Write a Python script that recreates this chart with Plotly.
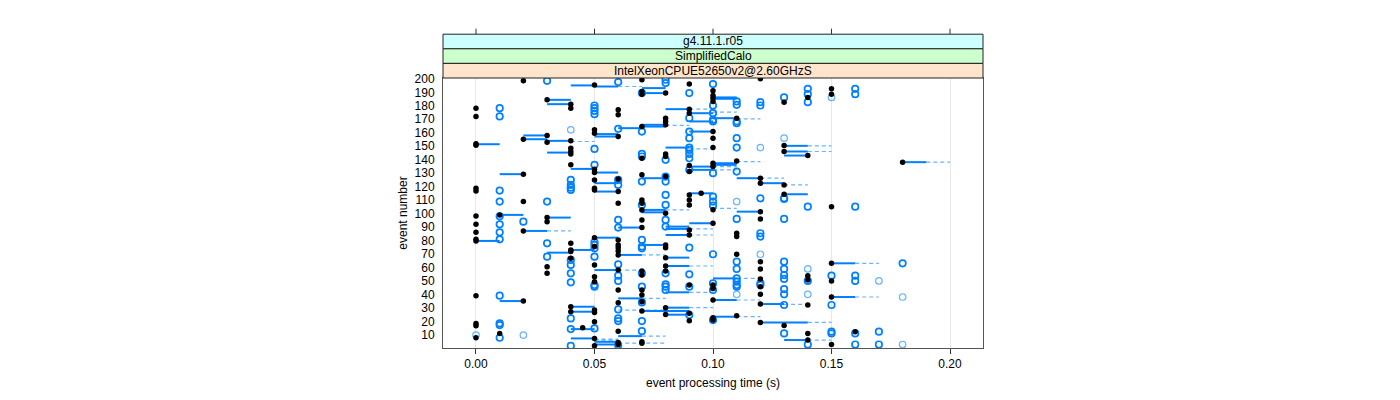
import plotly.graph_objects as go

# ---------------- data ----------------
# black filled dots: (event processing time [s], event number)
BLACK = [
    (0.02, 198.5), (0.05, 195.5), (0.03, 184.4), (0.04, 181.2), (0.04, 178.2), (0.00, 178.2), (0.00, 172.1),
    (0.05, 162.2), (0.05, 159.7), (0.03, 158.0), (0.02, 155.2), (0.03, 153.0), (0.04, 154.0), (0.00, 151.8),
    (0.00, 150.8), (0.04, 148.5), (0.04, 146.1), (0.04, 144.3), (0.04, 136.2), (0.05, 133.0), (0.05, 130.5),
    (0.02, 129.3), (0.05, 125.0), (0.05, 118.9), (0.05, 117.6), (0.00, 118.9), (0.00, 116.9), (0.02, 109.0),
    (0.07, 199.3), (0.09, 196.1), (0.12, 200.0), (0.07, 190.6), (0.07, 188.6), (0.08, 189.4), (0.10, 191.1),
    (0.10, 187.7), (0.10, 185.5), (0.10, 183.2), (0.13, 182.7), (0.06, 177.0), (0.06, 173.3), (0.09, 177.5),
    (0.09, 174.5), (0.08, 170.8), (0.08, 168.4), (0.08, 165.9), (0.07, 164.6), (0.06, 157.2), (0.11, 170.8),
    (0.10, 160.9), (0.10, 156.0), (0.10, 149.0), (0.13, 150.5), (0.13, 146.1), (0.07, 141.1), (0.08, 144.3),
    (0.08, 142.4), (0.11, 139.1), (0.10, 137.4), (0.10, 134.9), (0.09, 135.7), (0.09, 131.2), (0.07, 128.8),
    (0.08, 127.5), (0.06, 125.8), (0.06, 116.4), (0.12, 126.3), (0.12, 122.6), (0.13, 121.3), (0.095, 115.1),
    (0.09, 113.9), (0.09, 110.2), (0.09, 106.5), (0.07, 110.2), (0.07, 107.7), (0.07, 102.8), (0.06, 107.7),
    (0.12, 101.5), (0.10, 103.0), (0.13, 114.4),
    (0.14, 186.2), (0.15, 192.6), (0.15, 188.6), (0.14, 143.1), (0.18, 138.2), (0.15, 105.2),
    (0.00, 98.3), (0.00, 92.1), (0.00, 86.2), (0.00, 81.0), (0.00, 79.8), (0.01, 99.1), (0.02, 87.2),
    (0.03, 97.1), (0.03, 94.1), (0.04, 78.0), (0.04, 73.0), (0.04, 71.9), (0.04, 66.9), (0.03, 60.7),
    (0.03, 55.8), (0.05, 82.2), (0.05, 75.6), (0.05, 62.0), (0.05, 53.3), (0.05, 49.6), (0.00, 39.2),
    (0.02, 35.2), (0.00, 18.6), (0.00, 16.9), (0.00, 8.0), (0.01, 11.2), (0.04, 31.0), (0.04, 27.3),
    (0.05, 28.5), (0.05, 26.8), (0.045, 15.4), (0.05, 19.9), (0.05, 7.5), (0.05, 2.0), (0.06, 3.0), (0.07, 4.0),
    (0.08, 100.3), (0.12, 96.1), (0.07, 95.4), (0.07, 89.7), (0.09, 87.9), (0.09, 84.2), (0.10, 92.9),
    (0.11, 85.5), (0.11, 83.0), (0.06, 80.5), (0.06, 76.8), (0.06, 74.8), (0.06, 72.3), (0.06, 69.4),
    (0.08, 76.8), (0.08, 74.8), (0.08, 67.4), (0.11, 69.9), (0.06, 58.2), (0.06, 43.4), (0.06, 34.0),
    (0.07, 57.5), (0.07, 54.5), (0.08, 61.2), (0.08, 57.5), (0.09, 47.1), (0.07, 43.4), (0.07, 39.7),
    (0.07, 34.7), (0.07, 27.8), (0.10, 47.1), (0.10, 44.6), (0.12, 51.6), (0.12, 45.9), (0.12, 40.2),
    (0.12, 64.4), (0.12, 59.0), (0.10, 36.0), (0.12, 33.0), (0.08, 30.3), (0.08, 25.3), (0.09, 26.1),
    (0.09, 20.6), (0.06, 12.9), (0.06, 4.5), (0.10, 22.8), (0.10, 21.1), (0.11, 24.3), (0.12, 19.4),
    (0.07, 5.0), (0.13, 17.0),
    (0.15, 63.2), (0.14, 54.0), (0.14, 50.8), (0.15, 50.1), (0.15, 38.2), (0.14, 32.3), (0.14, 11.2),
    (0.16, 12.5), (0.14, 6.3), (0.15, 3.0),
]

# blue open circles (strong)
CIRCLES = [
    (0.03, 198.5), (0.05, 180.2), (0.05, 178.2), (0.05, 176.2), (0.05, 173.8), (0.01, 178.2), (0.01, 172.1),
    (0.05, 148.0), (0.05, 136.2), (0.04, 125.0), (0.04, 121.3), (0.04, 119.3), (0.04, 117.6), (0.01, 117.1),
    (0.01, 109.0), (0.03, 109.0),
    (0.06, 197.6), (0.08, 199.3), (0.08, 196.8), (0.10, 196.1), (0.09, 189.4), (0.07, 189.4), (0.11, 183.2),
    (0.11, 180.7), (0.12, 182.7), (0.12, 180.2), (0.13, 186.2), (0.10, 180.2), (0.10, 174.5), (0.09, 170.8),
    (0.10, 169.6), (0.10, 168.4), (0.11, 168.4), (0.11, 167.1), (0.06, 162.9), (0.07, 160.9), (0.09, 160.9),
    (0.09, 156.0), (0.11, 156.0), (0.09, 149.0), (0.11, 149.0), (0.07, 144.3), (0.07, 142.4), (0.08, 139.9),
    (0.09, 147.3), (0.09, 144.3), (0.09, 141.1), (0.09, 132.5), (0.10, 130.0), (0.11, 131.2), (0.07, 123.8),
    (0.08, 127.5), (0.08, 123.8), (0.06, 125.0), (0.06, 121.3), (0.08, 113.9), (0.08, 106.5), (0.07, 106.5),
    (0.10, 112.7), (0.10, 109.0), (0.10, 106.0), (0.12, 111.4), (0.13, 111.4),
    (0.14, 192.6), (0.14, 188.6), (0.14, 182.7), (0.16, 192.6), (0.16, 188.6), (0.14, 105.2), (0.16, 105.2),
    (0.13, 110.9),
    (0.01, 92.1), (0.01, 86.2), (0.01, 81.0), (0.01, 98.0), (0.02, 94.1), (0.03, 78.0), (0.03, 68.1),
    (0.04, 65.7), (0.04, 62.0), (0.04, 55.8), (0.04, 49.1), (0.05, 78.8), (0.05, 76.8), (0.05, 74.3),
    (0.05, 68.1), (0.05, 47.1), (0.05, 45.9), (0.01, 39.2), (0.01, 18.6), (0.01, 17.4), (0.01, 8.0),
    (0.04, 22.3), (0.04, 14.4), (0.05, 14.9), (0.04, 2.0),
    (0.06, 95.4), (0.06, 89.7), (0.08, 95.4), (0.08, 90.4), (0.11, 96.1), (0.12, 85.5), (0.12, 83.0),
    (0.13, 96.1), (0.07, 80.5), (0.07, 75.6), (0.07, 74.3), (0.09, 74.8), (0.10, 69.9), (0.06, 62.4),
    (0.06, 54.0), (0.06, 50.1), (0.07, 55.8), (0.08, 55.8), (0.09, 55.0), (0.09, 45.9), (0.08, 47.6),
    (0.08, 45.9), (0.08, 43.4), (0.07, 45.9), (0.07, 34.2), (0.07, 20.4), (0.10, 48.3), (0.10, 43.4),
    (0.11, 52.0), (0.11, 49.6), (0.11, 47.1), (0.11, 45.9), (0.12, 48.3), (0.12, 47.1), (0.13, 32.3),
    (0.06, 29.0), (0.06, 22.3), (0.06, 20.4), (0.09, 24.8), (0.10, 21.1), (0.07, 12.9), (0.06, 2.5),
    (0.13, 64.4), (0.13, 59.0), (0.13, 54.5), (0.13, 51.6), (0.13, 44.1), (0.13, 40.2), (0.13, 11.2),
    (0.11, 64.4), (0.11, 59.0),
    (0.18, 63.2), (0.14, 50.1), (0.15, 54.0), (0.16, 54.0), (0.16, 50.1), (0.15, 32.3), (0.15, 12.5),
    (0.15, 11.2), (0.16, 11.2), (0.17, 12.5), (0.14, 3.0), (0.16, 3.0), (0.17, 3.0),
]

# blue open circles (faint)
FAINT = [
    (0.04, 162.2), (0.13, 156.0), (0.12, 149.0), (0.11, 109.0), (0.15, 186.2), (0.00, 10.0), (0.02, 10.0),
    (0.12, 69.9), (0.11, 40.2), (0.14, 59.0), (0.17, 50.1), (0.14, 40.2), (0.18, 38.2), (0.18, 3.0),
]

# solid blue segments: (from, to, event)
SOLID = [
    (0.04, 0.05, 195.1), (0.05, 0.06, 194.3), (0.03, 0.04, 184.4), (0.03, 0.04, 181.2), (0.05, 0.06, 159.0),
    (0.05, 0.06, 157.2), (0.02, 0.03, 158.0), (0.02, 0.03, 155.2), (0.03, 0.04, 154.0), (0.00, 0.01, 151.5),
    (0.03, 0.04, 145.3), (0.04, 0.05, 133.2), (0.05, 0.06, 130.5), (0.01, 0.02, 129.3), (0.05, 0.06, 122.6),
    (0.05, 0.06, 116.4),
    (0.07, 0.08, 193.1), (0.07, 0.08, 189.4), (0.10, 0.11, 186.2), (0.10, 0.11, 185.2), (0.08, 0.09, 177.5),
    (0.09, 0.10, 174.5), (0.09, 0.10, 168.4), (0.10, 0.11, 170.8), (0.07, 0.08, 165.9), (0.07, 0.08, 164.6),
    (0.06, 0.07, 163.4), (0.09, 0.10, 160.9), (0.08, 0.09, 149.0), (0.10, 0.11, 137.4), (0.10, 0.11, 136.2),
    (0.09, 0.10, 134.9), (0.09, 0.10, 132.5), (0.07, 0.08, 126.3), (0.11, 0.12, 126.3), (0.12, 0.13, 122.6),
    (0.09, 0.10, 115.1), (0.07, 0.08, 102.8),
    (0.13, 0.14, 150.3), (0.13, 0.14, 146.1), (0.13, 0.14, 143.1), (0.18, 0.19, 138.2), (0.13, 0.14, 114.4),
    (0.00, 0.01, 79.8), (0.01, 0.02, 99.1), (0.02, 0.03, 87.2), (0.03, 0.04, 97.1), (0.03, 0.04, 71.1),
    (0.05, 0.06, 82.2), (0.04, 0.05, 73.1), (0.05, 0.06, 58.2), (0.01, 0.02, 35.2), (0.04, 0.05, 31.0),
    (0.04, 0.05, 27.3), (0.04, 0.05, 14.4), (0.04, 0.05, 7.5), (0.05, 0.06, 5.0), (0.05, 0.06, 3.0),
    (0.07, 0.08, 101.0), (0.11, 0.12, 101.5), (0.06, 0.07, 89.7), (0.08, 0.09, 90.4), (0.08, 0.09, 88.7),
    (0.08, 0.09, 84.2), (0.09, 0.10, 92.9), (0.07, 0.08, 76.8), (0.06, 0.07, 69.4), (0.08, 0.09, 67.4),
    (0.08, 0.09, 61.2), (0.08, 0.09, 41.7), (0.06, 0.07, 37.2), (0.10, 0.11, 52.0), (0.10, 0.11, 36.0),
    (0.12, 0.13, 33.0), (0.07, 0.09, 27.8), (0.08, 0.09, 30.3), (0.08, 0.09, 25.1), (0.10, 0.11, 23.6),
    (0.12, 0.14, 19.4), (0.06, 0.07, 9.2),
    (0.15, 0.16, 63.2), (0.15, 0.16, 38.2), (0.13, 0.14, 6.3),
]

# dashed light-blue segments: (from, to, event)
DASHED = [
    (0.04, 0.05, 153.5), (0.06, 0.07, 194.3), (0.09, 0.10, 177.5), (0.10, 0.11, 175.3), (0.08, 0.09, 165.5),
    (0.11, 0.12, 170.3), (0.09, 0.10, 148.1), (0.11, 0.12, 138.6), (0.10, 0.11, 134.9), (0.10, 0.11, 132.5),
    (0.12, 0.13, 126.3), (0.08, 0.09, 102.8), (0.14, 0.15, 150.3), (0.14, 0.15, 146.1), (0.19, 0.20, 138.2),
    (0.13, 0.14, 121.3), (0.03, 0.04, 87.2), (0.05, 0.06, 7.0), (0.06, 0.08, 4.0),
    (0.10, 0.11, 104.0), (0.09, 0.10, 88.7), (0.09, 0.10, 84.2), (0.11, 0.12, 52.0), (0.06, 0.07, 58.2),
    (0.07, 0.08, 69.4), (0.09, 0.10, 61.2), (0.09, 0.10, 41.7), (0.07, 0.08, 37.2), (0.11, 0.12, 36.0),
    (0.06, 0.08, 28.5), (0.09, 0.10, 30.3), (0.11, 0.12, 23.6), (0.07, 0.08, 9.2), (0.05, 0.06, 6.3),
    (0.16, 0.17, 63.2), (0.16, 0.17, 38.2), (0.13, 0.14, 32.7), (0.14, 0.15, 19.4), (0.14, 0.15, 6.3),
]

STRIPS = ["g4.11.1.r05", "SimplifiedCalo", "IntelXeonCPUE52650v2@2.60GHzS"]  # top to bottom
X_TICKS = [0.00, 0.05, 0.10, 0.15, 0.20]
X_TICK_TEXT = ["0.00", "0.05", "0.10", "0.15", "0.20"]
Y_TICKS = list(range(10, 201, 10))

# ---------------- figure ----------------
BLUE = "#0080ff"
FONT = "Liberation Sans, Arial, sans-serif"


def seg_xy(segs):
    xs, ys = [], []
    for x0, x1, y in segs:
        xs += [x0, x1, None]
        ys += [y, y, None]
    return xs, ys


fig = go.Figure()

dx, dy = seg_xy(DASHED)
fig.add_trace(go.Scatter(x=dx, y=dy, mode="lines", hoverinfo="skip",
                         line=dict(color="rgba(0,128,255,0.6)", width=1.2, dash="4px,3px")))
sx, sy = seg_xy(SOLID)
fig.add_trace(go.Scatter(x=sx, y=sy, mode="lines", hoverinfo="skip",
                         line=dict(color=BLUE, width=2)))
fig.add_trace(go.Scatter(x=[p[0] for p in FAINT], y=[p[1] for p in FAINT], mode="markers",
                         marker=dict(symbol="circle-open", size=6.5, color="rgba(0,128,255,0.6)",
                                     line=dict(width=1.2, color="rgba(0,128,255,0.6)"))))
fig.add_trace(go.Scatter(x=[p[0] for p in CIRCLES], y=[p[1] for p in CIRCLES], mode="markers",
                         marker=dict(symbol="circle-open", size=6.5, color=BLUE,
                                     line=dict(width=1.7, color=BLUE))))
fig.add_trace(go.Scatter(x=[p[0] for p in BLACK], y=[p[1] for p in BLACK], mode="markers",
                         marker=dict(symbol="circle", size=5.5, color="black", line=dict(width=0))))

# strips
strip_cols = ["#ccffff", "#ccffcc", "#ffe5cc"]
plot_h = 270.0
edges = [78.3 - 43.8, 78.3 - 29.2, 78.3 - 14.6, 78.3]  # pixel tops
for i, (lab, col) in enumerate(zip(STRIPS, strip_cols)):
    y1 = 1 + (78.3 - edges[i]) / plot_h
    y0 = 1 + (78.3 - edges[i + 1]) / plot_h
    fig.add_shape(type="rect", xref="paper", yref="paper", x0=0, x1=1, y0=y0, y1=y1,
                  fillcolor=col, line=dict(color="#222222", width=1), layer="above")
    fig.add_annotation(text=lab, xref="paper", yref="paper", x=0.5, y=(y0 + y1) / 2,
                       showarrow=False, font=dict(family=FONT, size=12, color="black"),
                       xanchor="center", yanchor="middle")

# top ticks above strips
top = 1 + 43.8 / plot_h
for t in X_TICKS:
    fig.add_shape(type="line", xref="x", yref="paper", x0=t, x1=t, y0=top, y1=top + 5.5 / plot_h,
                  line=dict(color="#333333", width=1))

# page body adds an 8px offset, so margins are reduced by 8 on left/top
fig.update_layout(
    width=1400, height=400,
    margin=dict(l=435, r=425, t=70, b=60),
    paper_bgcolor="white", plot_bgcolor="white",
    showlegend=False,
    font=dict(family=FONT, size=12, color="black"),
    xaxis=dict(range=[-0.01392, 0.21392], tickvals=X_TICKS, ticktext=X_TICK_TEXT,
               ticks="outside", ticklen=5, tickcolor="#333333", showline=True, linecolor="#555555",
               linewidth=1, mirror=True, showgrid=True, gridcolor="#e8e8e8", gridwidth=1, zeroline=False,
               tickfont=dict(size=12),
               title=dict(text="event processing time (s)", standoff=8, font=dict(size=12))),
    yaxis=dict(range=[0.4, 200.6], tickvals=Y_TICKS, ticks="", showline=True, linecolor="#555555",
               linewidth=1, mirror=True, showgrid=False, zeroline=False, ticklabelstandoff=5,
               tickfont=dict(size=12),
               title=dict(text="event number", standoff=4, font=dict(size=12))),
)

fig.write_html("out.html")
